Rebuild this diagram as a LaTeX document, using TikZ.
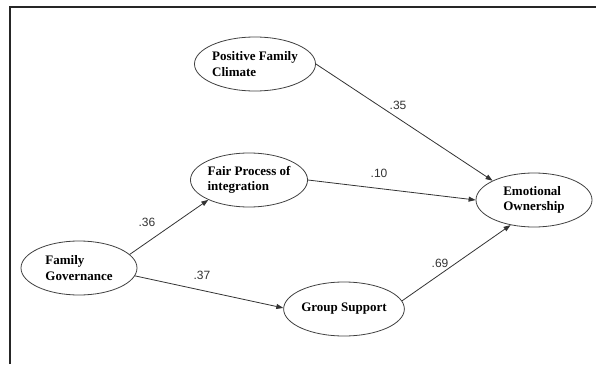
\documentclass[tikz,border=0pt]{standalone}
\usepackage{fontspec}
\setmainfont{Liberation Serif}
\newfontfamily\numfont{Liberation Sans}
\usetikzlibrary{shapes.geometric,arrows.meta}
\begin{document}
\begin{tikzpicture}[x=1pt,y=-1pt,construct/.style={ellipse,draw=black!75,line width=.8pt,minimum width=116pt,minimum height=54pt,inner sep=0pt,align=left,font=\fontsize{13}{15.5}\selectfont\bfseries},link/.style={draw=black!80,line width=.8pt,-{Triangle[length=7pt,width=5pt]}},weight/.style={font=\fontsize{12}{14}\numfont,text=black!80,inner sep=0pt}]
\useasboundingbox (0,0) rectangle (596,364);
\draw[line width=1.5pt,black!85] (10,364) -- (10,7) -- (596,7);
\node[construct] (pfc) at (255,64) {Positive Family\\Climate};
\node[construct] (fpi) at (249,180) {Fair Process of\\integration};
\node[construct] (fg) at (79,268) {Family\\Governance};
\node[construct] (gs) at (344,309) {Group Support};
\node[construct] (eo) at (534,200) {Emotional\\Ownership};
\draw[link] (fg.15) -- (fpi.206);
\draw[link] (fg.-8) -- (gs.179);
\draw[link] (pfc.east) -- (eo.155);
\draw[link] (fpi.east) -- (eo.west);
\draw[link] (gs.8) -- (eo.227);
\node[weight] (w36) at (147,222) {.36};
\node[weight] (w37) at (202,275) {.37};
\node[weight] (w35) at (398,105) {.35};
\node[weight] (w10) at (379,173) {.10};
\node[weight] (w69) at (440,263) {.69};
\end{tikzpicture}
\end{document}
